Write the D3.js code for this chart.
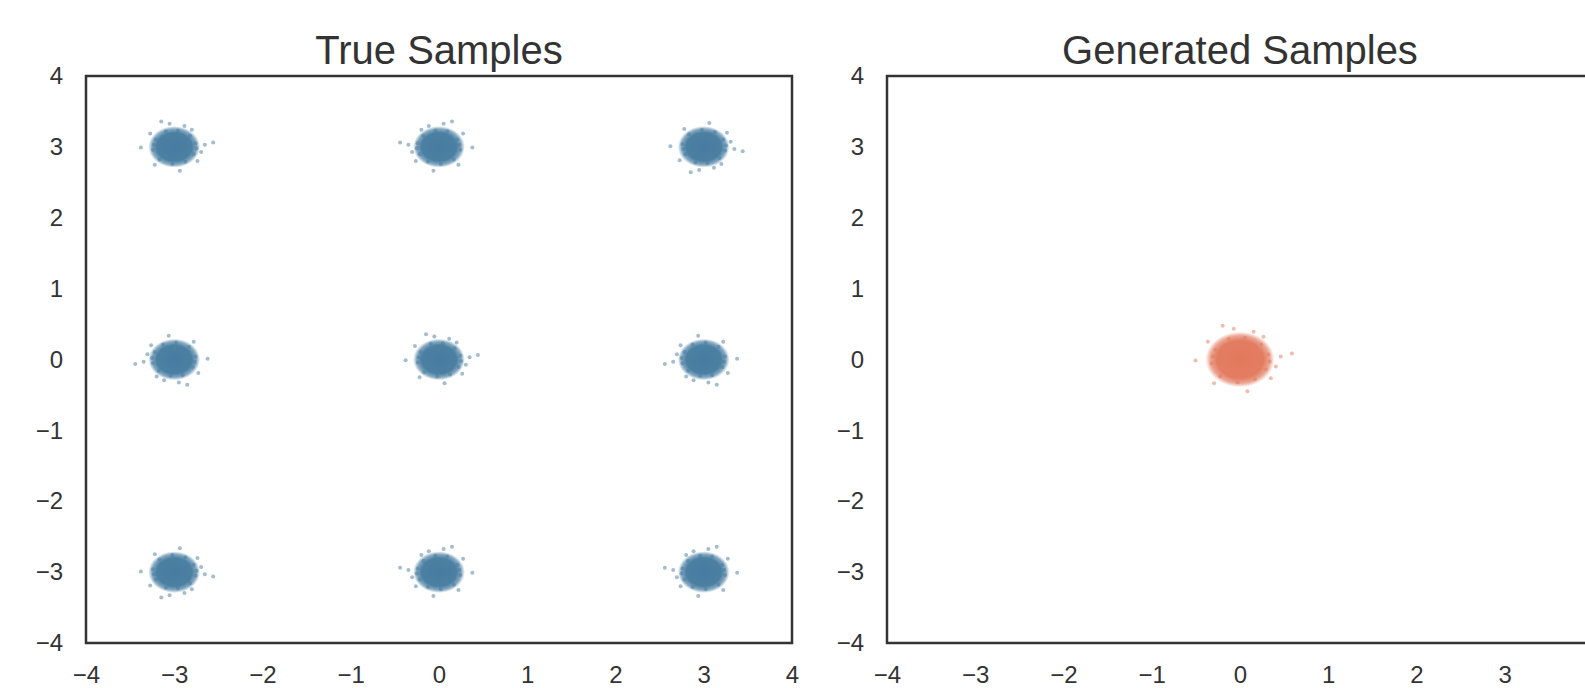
<!DOCTYPE html>
<html lang="en">
<head>
<meta charset="utf-8">
<title>True vs Generated Samples</title>
<script src="https://cdn.jsdelivr.net/npm/d3@7"></script>
<style>
  body { margin: 0; background: #fff; }
  svg { display: block; font-family: "Liberation Sans", Arial, sans-serif; }
  .tick text { fill: #333; font-size: 24px; }
  .title { fill: #333; font-size: 40px; }
</style>
</head>
<body>
<svg id="chart" width="1585" height="688"></svg>
<script>
// true distribution: 3x3 grid of gaussian blobs
const trueX = [-3, 0, 3, -3, 0, 3, -3, 0, 3];
const trueY = [3, 3, 3, 0, 0, 0, -3, -3, -3];
const trueSpread = 0.105;

// generator collapsed onto one blob at the origin
const genX = [0];
const genY = [0];
const genSpread = 0.14;

// points around the edge of a blob, in units of its spread
const fringe = [
  [2.3, 0.5], [2.1, -1.0], [1.7, 1.5], [0.4, 2.2], [-0.9, 2.1], [-2.0, 1.0],
  [-2.3, -0.4], [-1.6, -1.7], [-0.2, -2.3], [1.2, -2.0], [2.4, -0.2], [-2.2, 0.3],
  [2.9, -0.7], [3.3, 0.3], [1.1, 2.8], [-0.5, 3.1], [-2.6, 1.8], [-3.6, -0.1],
  [-2.1, -2.4], [0.6, -3.2], [2.5, -1.9], [4.2, 0.6], [-1.4, 3.4], [1.9, 2.3]
];
// mirror the fringe differently for each blob so they don't look stamped
const flips = [[1, 1], [-1, 1], [1, -1], [-1, -1], [1, 1], [-1, -1], [1, -1], [-1, 1], [-1, 1]];

const ticks = [-4, -3, -2, -1, 0, 1, 2, 3, 4];
const titles = ["True Samples", "Generated Samples"];

const blue = "#467ca0";
const orange = "#e2795d";

const svg = d3.select("#chart");
const W = 706, H = 567;   // size of one axes box
const boxTop = 76;
const lefts = [86, 887];

const defs = svg.append("defs");
[["blob-blue", blue], ["blob-orange", orange]].forEach(([id, c]) => {
  const grad = defs.append("radialGradient").attr("id", id);
  grad.append("stop").attr("offset", "0%").attr("stop-color", c).attr("stop-opacity", 1);
  grad.append("stop").attr("offset", "68%").attr("stop-color", c).attr("stop-opacity", 0.97);
  grad.append("stop").attr("offset", "86%").attr("stop-color", c).attr("stop-opacity", 0.65);
  grad.append("stop").attr("offset", "100%").attr("stop-color", c).attr("stop-opacity", 0);
});

function panel(i, xs, ys, spread, color, gradId) {
  const g = svg.append("g").attr("transform", `translate(${lefts[i]},${boxTop})`);
  const x = d3.scaleLinear().domain([-4, 4]).range([0, W]);
  const y = d3.scaleLinear().domain([-4, 4]).range([H, 0]);

  // axes: seaborn white style, labels only
  g.append("g").attr("transform", `translate(0,${H})`)
    .call(d3.axisBottom(x).tickValues(ticks).tickSize(0).tickPadding(23))
    .call(a => a.select(".domain").remove());
  g.append("g")
    .call(d3.axisLeft(y).tickValues(ticks).tickSize(0).tickPadding(23))
    .call(a => a.select(".domain").remove());

  const blobs = xs.map((cx, k) => ({ cx, cy: ys[k], flip: flips[k] }));

  g.selectAll(".blob").data(blobs).join("ellipse")
    .attr("class", "blob")
    .attr("cx", d => x(d.cx))
    .attr("cy", d => y(d.cy))
    .attr("rx", d => x(d.cx + 2.8 * spread) - x(d.cx))
    .attr("ry", d => y(d.cy) - y(d.cy + 2.8 * spread))
    .attr("fill", `url(#${gradId})`);

  const strays = blobs.flatMap(d => fringe.map(([fx, fy]) => ({
    px: d.cx + fx * spread * d.flip[0],
    py: d.cy + fy * spread * d.flip[1]
  })));
  g.selectAll(".stray").data(strays).join("circle")
    .attr("class", "stray")
    .attr("cx", d => x(d.px))
    .attr("cy", d => y(d.py))
    .attr("r", 2)
    .attr("fill", color)
    .attr("opacity", 0.5);

  g.append("rect")
    .attr("width", W).attr("height", H)
    .attr("fill", "none").attr("stroke", "#333").attr("stroke-width", 2.5);

  g.append("text").attr("class", "title")
    .attr("x", W / 2).attr("y", -12)
    .attr("text-anchor", "middle")
    .text(titles[i]);
}

panel(0, trueX, trueY, trueSpread, blue, "blob-blue");
panel(1, genX, genY, genSpread, orange, "blob-orange");
</script>
</body>
</html>
